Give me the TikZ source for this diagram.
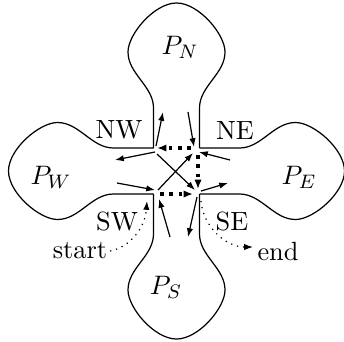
\documentclass[tikz,border=0pt]{standalone}
\usetikzlibrary{arrows.meta}
\begin{document}
\begin{tikzpicture}[x=0.41pt,y=-0.41pt,
  outline/.style={line width=0.5pt, line join=miter},
  arr/.style={-{Latex[length=3.6pt,width=2.6pt]}, line width=0.5pt},
  darr/.style={-{Latex[length=3.8pt,width=3pt]}, line width=1.5pt, dash pattern=on 1.5pt off 2.3pt},
  tarr/.style={-{Latex[length=3.6pt,width=2.6pt]}, line width=0.5pt, dotted},
  lab/.style={inner sep=1pt, font=\fontsize{10.8pt}{13pt}\selectfont}]
\useasboundingbox (0,0) rectangle (344,341);
% outline: four lobes
\begin{scope}[shift={(176.5,171)}]
\foreach \r in {0,90,180,270}{
  \draw[outline, rotate=\r] (-23,-23) -- (-23,-63)
    .. controls (-23,-85) and (-48.5,-97) .. (-48.5,-119)
    .. controls (-48.5,-137) and (-22,-168) .. (0,-168)
    .. controls (22,-168) and (48.5,-137) .. (48.5,-119)
    .. controls (48.5,-97) and (23,-85) .. (23,-63) -- (23,-23);
}
\end{scope}
% labels
\node[lab] (PN) at (180,47) {$P_N$};
\node[lab] (PW) at (51,177) {$P_W$};
\node[lab] (PE) at (299,177) {$P_E$};
\node[lab] (PS) at (166,287) {$P_S$};
\node[lab] (NWl) at (119,130) {NW};
\node[lab] (NEl) at (235,130) {NE};
\node[lab] (SWl) at (117,221) {SW};
\node[lab] (SEl) at (232,221) {SE};
\node[lab] (start) at (80,251) {start};
\node[lab] (end) at (278,251) {end};
% coordinates
\coordinate (nw1) at (156,146); \coordinate (nu) at (163,112);
\coordinate (nw2) at (155,152); \coordinate (wl) at (115,160);
\coordinate (ne1) at (191,148); \coordinate (nw3) at (157,148);
\coordinate (nw4) at (157,154); \coordinate (se1) at (195,190);
\coordinate (sw1) at (158,190); \coordinate (ne2) at (193,153);
\coordinate (ne3) at (198,155); \coordinate (se2) at (198,189);
\coordinate (nd) at (188,112); \coordinate (ne4) at (194,147);
\coordinate (er) at (230,160); \coordinate (ne5) at (199,152);
\coordinate (wi) at (117,183); \coordinate (sw2) at (155,190);
\coordinate (sw3) at (160,194); \coordinate (se3) at (193,194);
\coordinate (se4) at (201,191); \coordinate (eo) at (228,183);
\coordinate (se5) at (197,197); \coordinate (so) at (188,237);
\coordinate (si) at (170,237); \coordinate (sw4) at (159,199);
\coordinate (sw5) at (147,201);
\coordinate (se6) at (201,201); \coordinate (endtip) at (253,247);
% arrows
\draw[arr] (nw1) -- (nu);
\draw[arr] (nw2) -- (wl);
\draw[darr] (ne1) -- (nw3);
\draw[arr] (nw4) -- (se1);
\draw[arr] (sw1) -- (ne2);
\draw[darr] (ne3) -- (se2);
\draw[arr] (nd) -- (ne4);
\draw[arr] (er) -- (ne5);
\draw[arr] (wi) -- (sw2);
\draw[darr] (sw3) -- (se3);
\draw[arr] (se4) -- (eo);
\draw[arr] (se5) -- (so);
\draw[arr] (si) -- (sw4);
\draw[tarr] (start.east) .. controls (130,247) and (145,228) .. (sw5);
\draw[tarr] (se6) .. controls (203,226) and (225,247) .. (endtip);
\end{tikzpicture}
\end{document}
